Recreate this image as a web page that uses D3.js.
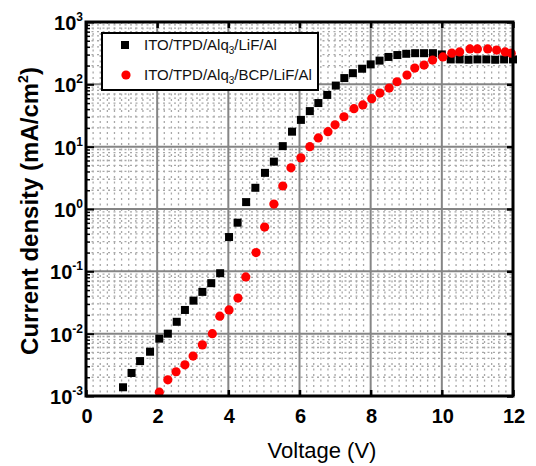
<!DOCTYPE html>
<html><head><meta charset="utf-8">
<script src="https://cdn.jsdelivr.net/npm/d3@7/dist/d3.min.js"></script>
<style>body{margin:0;background:#fff}svg{display:block}</style>
</head><body><svg id="c" width="536" height="466"></svg>
<script>
// Series A: ITO/TPD/Alq3/LiF/Al (black squares)
const voltageA = [1.04,1.28,1.52,1.8,2.06,2.3,2.55,2.78,3.02,3.27,3.52,3.77,4.02,4.26,4.5,4.76,5.03,5.28,5.53,5.79,6.04,6.29,6.53,6.78,7.02,7.26,7.5,7.76,8.0,8.25,8.5,8.75,9.0,9.25,9.5,9.75,10.0,10.25,10.5,10.75,11.0,11.25,11.5,11.75,12.0];
const currentA = [0.00138,0.00234,0.00363,0.00513,0.00832,0.0100,0.0155,0.0240,0.0339,0.0468,0.0646,0.0933,0.355,0.603,1.29,2.19,3.80,5.75,10.2,17.4,26.9,37.2,50.1,67.6,95.5,126,151,178,209,240,275,295,309,316,316,316,302,251,251,248,251,251,248,251,251];
// Series B: ITO/TPD/Alq3/BCP/LiF/Al (red circles)
const voltageB = [2.06,2.3,2.53,2.78,3.01,3.27,3.55,3.76,4.02,4.27,4.49,4.78,5.02,5.28,5.53,5.76,6.04,6.29,6.53,6.8,7.0,7.25,7.53,7.78,8.03,8.26,8.52,8.74,9.02,9.24,9.5,9.74,10.03,10.28,10.5,10.79,11.0,11.29,11.54,11.78,11.95];
const currentB = [0.00115,0.00182,0.00245,0.00316,0.00437,0.00661,0.0100,0.0191,0.0240,0.0372,0.0813,0.200,0.513,1.20,2.34,4.57,6.61,10.0,13.8,17.4,22.4,30.2,40.7,46.8,58.9,72.4,87.1,110,141,182,204,245,275,316,331,370,370,370,355,331,316];
const xTicks = [0,2,4,6,8,10,12];
const yExponents = [-3,-2,-1,0,1,2,3];
const legendA = ["ITO/TPD/Alq","3","/LiF/Al"];
const legendB = ["ITO/TPD/Alq","3","/BCP/LiF/Al"];
const xTitle = "Voltage (V)";
const yTitle = ["Current density (mA/cm","2",")"];

const svg = d3.select("#c");
const L = 86, R = 513, T = 22, B = 396;
const x = d3.scaleLinear().domain([0,12]).range([L,R]);
const y = d3.scaleLog().domain([1e-3,1e3]).range([B,T]);
const font = "Liberation Sans, Arial, sans-serif";

// minor grid
const minorX = d3.range(0,12.001,0.2).filter(v => Math.abs(v/2 - Math.round(v/2)) > 1e-6);
svg.append("g").selectAll("line").data(minorX).join("line")
  .attr("x1",d=>x(d)).attr("x2",d=>x(d)).attr("y1",T).attr("y2",B)
  .attr("stroke","#a8a8a8").attr("stroke-width",1.3).attr("stroke-dasharray","2,3.5");
const minorY = [];
yExponents.slice(0,-1).forEach(e => { for (let m=2;m<=9;m++) minorY.push(m*Math.pow(10,e)); });
svg.append("g").selectAll("line").data(minorY).join("line")
  .attr("x1",L).attr("x2",R).attr("y1",d=>y(d)).attr("y2",d=>y(d))
  .attr("stroke","#a8a8a8").attr("stroke-width",1.3).attr("stroke-dasharray","2,3.5");
// major grid
svg.append("g").selectAll("line").data(xTicks.slice(1,-1)).join("line")
  .attr("x1",d=>x(d)).attr("x2",d=>x(d)).attr("y1",T).attr("y2",B)
  .attr("stroke","#858585").attr("stroke-width",2);
svg.append("g").selectAll("line").data(yExponents.slice(1,-1)).join("line")
  .attr("x1",L).attr("x2",R).attr("y1",d=>y(Math.pow(10,d))).attr("y2",d=>y(Math.pow(10,d)))
  .attr("stroke","#858585").attr("stroke-width",2);

// axes (inward ticks)
svg.append("g").attr("transform",`translate(${L},0)`)
  .call(d3.axisRight(y).tickValues(minorY).tickSize(4).tickFormat(""))
  .call(g=>{g.select(".domain").remove(); g.selectAll("line").attr("stroke","#000").attr("stroke-width",1.5);});
svg.append("g").attr("transform",`translate(${L},0)`)
  .call(d3.axisRight(y).tickValues(yExponents.map(e=>Math.pow(10,e))).tickSize(8).tickFormat(""))
  .call(g=>{g.select(".domain").remove(); g.selectAll("line").attr("stroke","#000").attr("stroke-width",2);});
svg.append("g").attr("transform",`translate(${R},0)`)
  .call(d3.axisLeft(y).tickValues(yExponents.map(e=>Math.pow(10,e))).tickSize(6).tickFormat(""))
  .call(g=>{g.select(".domain").remove(); g.selectAll("line").attr("stroke","#000").attr("stroke-width",2.5);});
svg.append("g").attr("transform",`translate(0,${B})`)
  .call(d3.axisTop(x).tickValues(xTicks).tickSize(6).tickFormat(""))
  .call(g=>{g.select(".domain").remove(); g.selectAll("line").attr("stroke","#000").attr("stroke-width",2.5);});
svg.append("g").attr("transform",`translate(0,${T})`)
  .call(d3.axisBottom(x).tickValues(xTicks).tickSize(6).tickFormat(""))
  .call(g=>{g.select(".domain").remove(); g.selectAll("line").attr("stroke","#000").attr("stroke-width",2.5);});

// data
svg.append("g").selectAll("rect").data(voltageA.map((v,i)=>[v,currentA[i]])).join("rect")
  .attr("x",d=>x(d[0])-4).attr("y",d=>y(d[1])-4).attr("width",8).attr("height",8).attr("fill","#000");
svg.append("g").selectAll("circle").data(voltageB.map((v,i)=>[v,currentB[i]])).join("circle")
  .attr("cx",d=>x(d[0])).attr("cy",d=>y(d[1])).attr("r",4.6).attr("fill","#ff0000");

// frame
svg.append("rect").attr("x",L).attr("y",T).attr("width",R-L).attr("height",B-T)
  .attr("fill","none").attr("stroke","#000").attr("stroke-width",3);

// tick labels
svg.append("g").selectAll("text").data(xTicks).join("text")
  .attr("x",d=>x(d)+1).attr("y",423).attr("text-anchor","middle")
  .attr("font-family",font).attr("font-weight","bold").attr("font-size",20).text(d=>d);
const yl = svg.append("g").selectAll("text").data(yExponents).join("text")
  .attr("x",83).attr("y",d=>y(Math.pow(10,d))+8).attr("text-anchor","end")
  .attr("font-family",font).attr("font-weight","bold").attr("font-size",20);
yl.append("tspan").text("10");
yl.append("tspan").attr("dy",-9).attr("font-size",12).text(d=>d);

// axis titles
svg.append("text").attr("x",322).attr("y",458).attr("text-anchor","middle")
  .attr("font-family",font).attr("font-size",22).text(xTitle);
const yt = svg.append("text").attr("transform","translate(38,211) rotate(-90)").attr("text-anchor","middle")
  .attr("font-family",font).attr("font-weight","bold").attr("font-size",24);
yt.append("tspan").text(yTitle[0]);
yt.append("tspan").attr("dy",-10).attr("font-size",14).text(yTitle[1]);
yt.append("tspan").attr("dy",10).text(yTitle[2]);

// legend
svg.append("rect").attr("x",102).attr("y",33).attr("width",216).attr("height",57)
  .attr("fill","#fff").attr("stroke","#000").attr("stroke-width",2);
svg.append("rect").attr("x",121).attr("y",41).attr("width",8).attr("height",8).attr("fill","#000");
svg.append("circle").attr("cx",126).attr("cy",75).attr("r",4.6).attr("fill","#ff0000");
[[legendA,50],[legendB,80]].forEach(([parts,yy])=>{
  const t = svg.append("text").attr("x",144).attr("y",yy).attr("font-family",font).attr("font-size",15).attr("fill","#111");
  t.append("tspan").text(parts[0]);
  t.append("tspan").attr("dy",4).attr("font-size",10).text(parts[1]);
  t.append("tspan").attr("dy",-4).text(parts[2]);
});
</script></body></html>
